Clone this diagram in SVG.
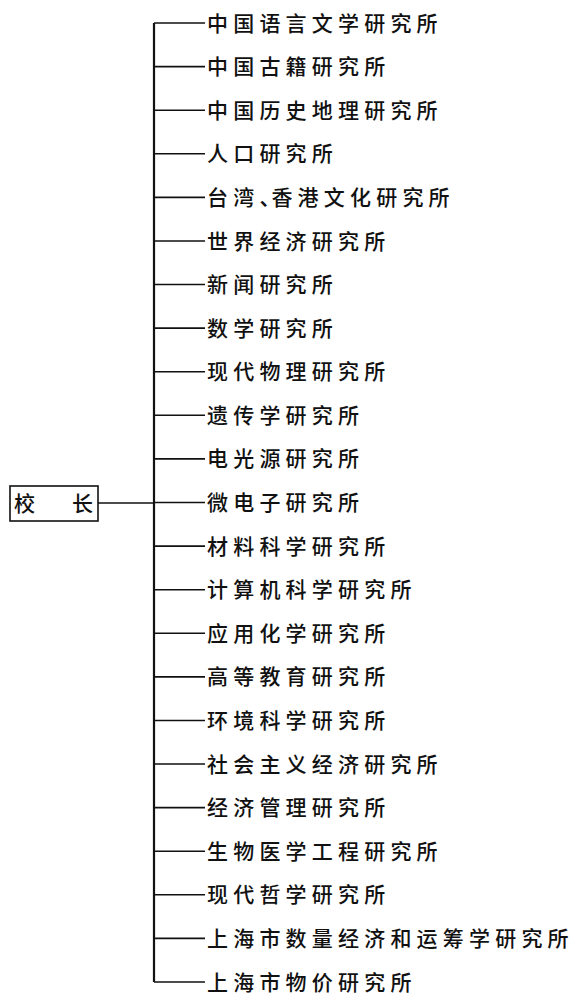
<svg xmlns="http://www.w3.org/2000/svg" width="580" height="997" viewBox="0 0 580 997">
<style>
.bg{fill:#ffffff}
.t{font-family:"Noto Sans CJK SC","Noto Sans CJK JP",sans-serif;font-size:21px;font-weight:500;fill:#111;letter-spacing:5.2px}
.ln{stroke:#111;stroke-width:1.6;fill:none}
.trunk{stroke:#111;stroke-width:2.2;fill:none}
.box{fill:#fff;stroke:#111;stroke-width:1.6}
</style>
<rect class="bg" x="0" y="0" width="580" height="997"/>
<g id="connectors">
<path class="trunk" d="M154,23 V982"/>
<path class="ln" d="M98,503 H154"/>
<path class="ln" d="M154,23 H205"/>
<path class="ln" d="M154,66.6 H205"/>
<path class="ln" d="M154,110.2 H205"/>
<path class="ln" d="M154,153.8 H205"/>
<path class="ln" d="M154,197.4 H205"/>
<path class="ln" d="M154,241 H205"/>
<path class="ln" d="M154,284.5 H205"/>
<path class="ln" d="M154,328.1 H205"/>
<path class="ln" d="M154,371.7 H205"/>
<path class="ln" d="M154,415.3 H205"/>
<path class="ln" d="M154,458.9 H205"/>
<path class="ln" d="M154,502.5 H205"/>
<path class="ln" d="M154,546.1 H205"/>
<path class="ln" d="M154,589.7 H205"/>
<path class="ln" d="M154,633.3 H205"/>
<path class="ln" d="M154,676.9 H205"/>
<path class="ln" d="M154,720.5 H205"/>
<path class="ln" d="M154,764 H205"/>
<path class="ln" d="M154,807.6 H205"/>
<path class="ln" d="M154,851.2 H205"/>
<path class="ln" d="M154,894.8 H205"/>
<path class="ln" d="M154,938.4 H205"/>
<path class="ln" d="M154,982 H205"/>
</g>
<g id="root">
<rect class="box" x="10" y="486" width="88" height="35"/>
<text class="t" x="14" y="511">校</text>
<text class="t" x="72" y="511">长</text>
</g>
<g id="n1"><text class="t" x="207" y="30.5">中国语言文学研究所</text></g>
<g id="n2"><text class="t" x="207" y="74.1">中国古籍研究所</text></g>
<g id="n3"><text class="t" x="207" y="117.7">中国历史地理研究所</text></g>
<g id="n4"><text class="t" x="207" y="161.3">人口研究所</text></g>
<g id="n5"><text class="t" x="207" y="204.9">台湾<tspan style="letter-spacing:-9px">、</tspan>香港文化研究所</text></g>
<g id="n6"><text class="t" x="207" y="248.5">世界经济研究所</text></g>
<g id="n7"><text class="t" x="207" y="292">新闻研究所</text></g>
<g id="n8"><text class="t" x="207" y="335.6">数学研究所</text></g>
<g id="n9"><text class="t" x="207" y="379.2">现代物理研究所</text></g>
<g id="n10"><text class="t" x="207" y="422.8">遗传学研究所</text></g>
<g id="n11"><text class="t" x="207" y="466.4">电光源研究所</text></g>
<g id="n12"><text class="t" x="207" y="510">微电子研究所</text></g>
<g id="n13"><text class="t" x="207" y="553.6">材料科学研究所</text></g>
<g id="n14"><text class="t" x="207" y="597.2">计算机科学研究所</text></g>
<g id="n15"><text class="t" x="207" y="640.8">应用化学研究所</text></g>
<g id="n16"><text class="t" x="207" y="684.4">高等教育研究所</text></g>
<g id="n17"><text class="t" x="207" y="728">环境科学研究所</text></g>
<g id="n18"><text class="t" x="207" y="771.5">社会主义经济研究所</text></g>
<g id="n19"><text class="t" x="207" y="815.1">经济管理研究所</text></g>
<g id="n20"><text class="t" x="207" y="858.7">生物医学工程研究所</text></g>
<g id="n21"><text class="t" x="207" y="902.3">现代哲学研究所</text></g>
<g id="n22"><text class="t" x="207" y="945.9">上海市数量经济和运筹学研究所</text></g>
<g id="n23"><text class="t" x="207" y="989.5">上海市物价研究所</text></g>
</svg>
